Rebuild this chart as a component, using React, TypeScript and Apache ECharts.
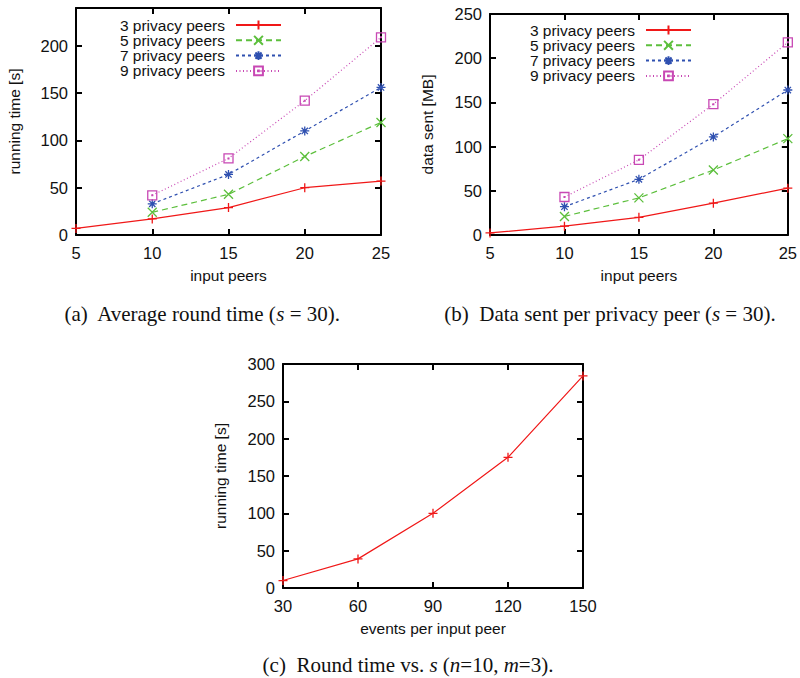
import React, { useEffect, useRef } from "react";
import * as echarts from "echarts";

// ---- data ----
const inputPeers = [5, 10, 15, 20, 25];
const seriesNames = ["3 privacy peers", "5 privacy peers", "7 privacy peers", "9 privacy peers"];
// (a) average round time [s]
const timeP3 = [7, 17, 29, 50, 57];
const timeP5 = [null, 24, 43, 83, 119];
const timeP7 = [null, 33, 64, 110, 156];
const timeP9 = [null, 42, 81, 142, 209];
// (b) data sent [MB]
const dataP3 = [2.3, 10, 20, 36, 53];
const dataP5 = [null, 21, 42, 73.5, 109];
const dataP7 = [null, 32, 63, 111, 164];
const dataP9 = [null, 43, 85, 148, 218];
// (c) round time vs events per input peer
const eventsPerPeer = [30, 60, 90, 120, 150];
const roundTime = [10, 39, 100, 175, 284];

const COLORS = ["#f01818", "#5cbf3c", "#2f50b0", "#c848b4"];
const DASHES: any[] = ["solid", [6, 4], [3, 3], [1, 2.5]];
const SYMBOLS = [
  "path://M5,0L5,10M0,5L10,5",
  "path://M0,0L10,10M10,0L0,10",
  "path://M5,0L5,10M0,5L10,5M1.5,1.5L8.5,8.5M8.5,1.5L1.5,8.5",
  "path://M0,0L10,0L10,10L0,10ZM4.6,4.6L5.4,4.6L5.4,5.4L4.6,5.4Z",
];
const SYMBOL_SIZES = [9, 9, 9, 9];

const SANS = "'Liberation Sans', Arial, Helvetica, sans-serif";
const SERIF = "'Liberation Serif', 'Times New Roman', serif";
const TICK_FONT = 16.5;
const TEXT_FONT = 15.5;
const CAP_FONT = 21;

function pairs(xs: number[], ys: (number | null)[]) {
  const out: number[][] = [];
  xs.forEach((x, i) => {
    const y = ys[i];
    if (y !== null && y !== undefined) out.push([x, y]);
  });
  return out;
}

function axisPair(
  min: number,
  max: number,
  interval: number,
  name: string,
  nameGap: number,
  isX: boolean,
  hideMax = false
) {
  const base = {
    type: "value",
    min,
    max,
    interval,
    splitLine: { show: false },
    axisLine: { show: true, onZero: false, lineStyle: { color: "#000", width: 2 } },
    axisTick: { show: true, inside: true, length: 6, lineStyle: { color: "#000", width: 2 } },
  };
  const main = {
    ...base,
    position: isX ? "bottom" : "left",
    name,
    nameLocation: "middle",
    nameGap,
    nameTextStyle: { fontFamily: SANS, fontSize: TEXT_FONT, color: "#111" },
    axisLabel: {
      show: true,
      fontFamily: SANS,
      fontSize: TICK_FONT,
      color: "#111",
      margin: isX ? 9 : 8,
      showMaxLabel: !hideMax,
    },
  };
  const mirror = {
    ...base,
    position: isX ? "top" : "right",
    axisLabel: { show: false },
  };
  return [main, mirror];
}

function lineSeries(
  name: string,
  idx: number,
  data: number[][],
  xAxisIndex: number,
  yAxisIndex: number
) {
  return {
    type: "line",
    name,
    data,
    xAxisIndex,
    yAxisIndex,
    symbol: SYMBOLS[idx],
    symbolSize: SYMBOL_SIZES[idx],
    showSymbol: true,
    clip: true,
    lineStyle: { color: COLORS[idx], width: 1.2, type: DASHES[idx] },
    itemStyle: { color: "rgba(0,0,0,0)", borderColor: COLORS[idx], borderWidth: 1.3 },
    emphasis: { disabled: true },
  };
}

export default function App() {
  const ref = useRef<HTMLDivElement>(null);
  useEffect(() => {
    if (!ref.current) return;
    const chart = echarts.init(ref.current, null, { renderer: "svg" });

    const [ax, axT] = axisPair(5, 25, 5, "input peers", 32, true);
    const [ay, ayR] = axisPair(0, 240, 50, "running time [s]", 54, false, true);
    const [bx, bxT] = axisPair(5, 25, 5, "input peers", 32, true);
    const [by, byR] = axisPair(0, 250, 50, "data sent [MB]", 55, false);
    const [cx, cxT] = axisPair(30, 150, 30, "events per input peer", 32, true);
    const [cy, cyR] = axisPair(0, 300, 50, "running time [s]", 55, false);

    const aData = [timeP3, timeP5, timeP7, timeP9];
    const bData = [dataP3, dataP5, dataP7, dataP9];

    const series: any[] = [];
    aData.forEach((ys, i) => series.push(lineSeries(seriesNames[i], i, pairs(inputPeers, ys), 0, 0)));
    bData.forEach((ys, i) => series.push(lineSeries(seriesNames[i], i, pairs(inputPeers, ys), 2, 2)));
    series.push(lineSeries("round time", 0, pairs(eventsPerPeer, roundTime), 4, 4));

    const legendCommon = {
      orient: "vertical",
      align: "right",
      padding: 0,
      itemWidth: 45,
      itemHeight: 11,
      itemGap: -0.7,
      selectedMode: false,
      data: seriesNames,
      textStyle: {
        fontFamily: SANS,
        fontSize: TEXT_FONT,
        lineHeight: 15,
        color: "#111",
        padding: [0, 6, 0, 0],
      },
    };

    const caption = (x: number, y: number, parts: [string, boolean][]) => ({
      type: "text",
      x,
      y,
      style: {
        text: parts.map(([t, it]) => `{${it ? "i" : "n"}|${t}}`).join(""),
        font: `${CAP_FONT}px ${SERIF}`,
        align: "center",
        verticalAlign: "middle",
        fill: "#111",
        rich: {
          n: { font: `${CAP_FONT}px ${SERIF}`, fontFamily: SERIF, fontSize: CAP_FONT, fill: "#111" },
          i: {
            font: `italic ${CAP_FONT}px ${SERIF}`,
            fontFamily: SERIF,
            fontSize: CAP_FONT,
            fontStyle: "italic",
            fill: "#111",
          },
        },
      },
    });

    const withGrid = (arr: any[]) => arr.map((a, i) => ({ ...a, gridIndex: Math.floor(i / 2) }));

    chart.setOption({
      animation: false,
      backgroundColor: "#fff",
      grid: [
        { left: 76, top: 8, width: 305, height: 227 },
        { left: 490, top: 14, width: 299, height: 221 },
        { left: 283, top: 364, width: 300, height: 224 },
      ],
      xAxis: withGrid([ax, axT, bx, bxT, cx, cxT]),
      yAxis: withGrid([ay, ayR, by, byR, cy, cyR]),
      legend: [
        { ...legendCommon, right: 518, top: 17 },
        { ...legendCommon, right: 108, top: 22 },
      ],
      series,
      graphic: [
        caption(202, 314, [["(a)  Average round time (", false], ["s", true], [" = 30).", false]]),
        caption(610, 314, [["(b)  Data sent per privacy peer (", false], ["s", true], [" = 30).", false]]),
        caption(408, 665, [
          ["(c)  Round time vs. ", false],
          ["s", true],
          [" (", false],
          ["n", true],
          ["=10, ", false],
          ["m", true],
          ["=3).", false],
        ]),
      ],
    });
    return () => chart.dispose();
  }, []);
  return (
    <div
      ref={ref}
      style={{ position: "absolute", left: 0, top: 0, width: 800, height: 678 }}
    />
  );
}
